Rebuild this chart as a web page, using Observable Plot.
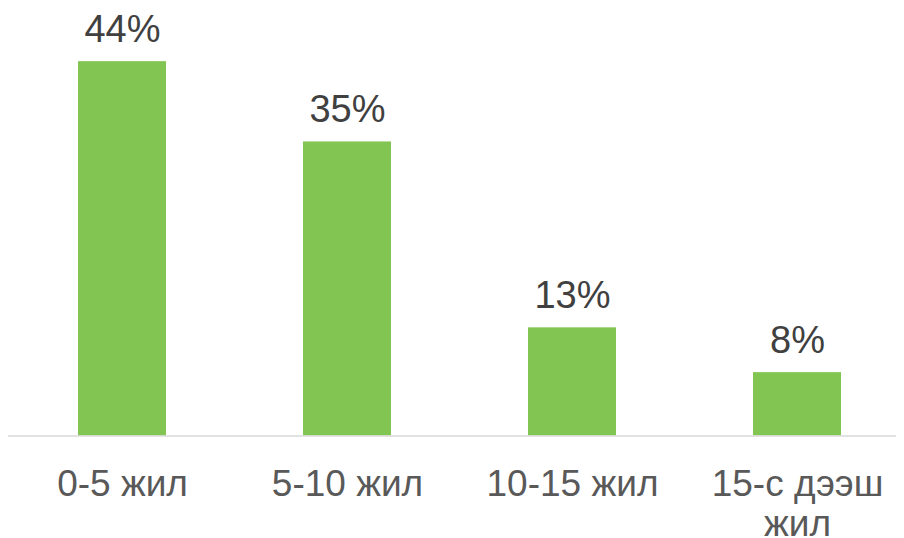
<!DOCTYPE html>
<html>
<head>
<meta charset="utf-8">
<script src="https://cdn.jsdelivr.net/npm/d3@7"></script>
<script src="https://cdn.jsdelivr.net/npm/@observablehq/plot@0.6"></script>
<style>
  html, body { margin: 0; padding: 0; background: #fff; }
  #chart svg { display: block; }
</style>
</head>
<body>
<div id="chart"></div>
<script>
const categories = ["0-5 жил", "5-10 жил", "10-15 жил", "15-с дээш\nжил"];
const values = [44.3, 34.8, 12.8, 7.5];

const data = categories.map((c, i) => ({ category: c, value: values[i] }));

const chart = Plot.plot({
  width: 904,
  height: 538,
  marginLeft: 8,
  marginRight: 8,
  marginTop: 13,
  marginBottom: 102.5,
  style: { fontFamily: "'Liberation Sans', Arial, sans-serif", background: "#fff" },
  x: {
    domain: categories,
    range: [9, 910],
    paddingInner: 0.61,
    paddingOuter: 0.305,
    align: 0.5
  },
  y: { domain: [0, 50], range: [435.5, 13], axis: null },
  marks: [
    Plot.barY(data, { x: "category", y: "value", fill: "#83C552" }),
    Plot.ruleY([0], { stroke: "#d9d9d9", strokeWidth: 1.5 }),
    Plot.text(data, {
      x: "category",
      y: "value",
      text: d => Math.round(d.value) + "%",
      dy: -20,
      lineAnchor: "bottom",
      fontSize: 38,
      fill: "#404040"
    }),
    Plot.axisX({
      tickSize: 0,
      tickPadding: 32,
      fontSize: 37,
      lineHeight: 1.08,
      fill: "#595959",
      label: null
    })
  ]
});

document.getElementById("chart").appendChild(chart);
</script>
</body>
</html>
